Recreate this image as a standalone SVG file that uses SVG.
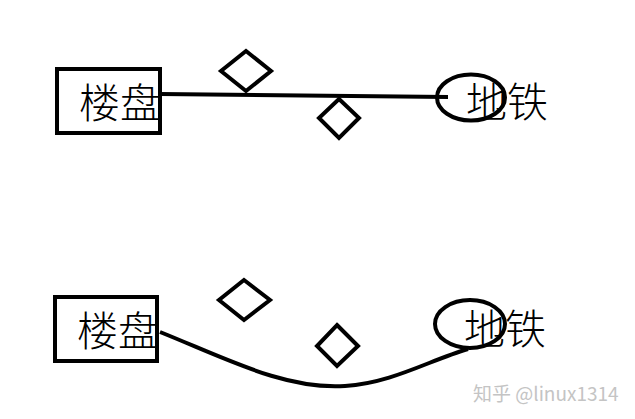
<svg xmlns="http://www.w3.org/2000/svg" width="635" height="419" viewBox="0 0 635 419">
<style>
.s{fill:none;stroke:#000;stroke-width:4}
.t{font-family:"Noto Sans CJK SC","Noto Sans",sans-serif;font-size:41px;font-weight:300;fill:#000}
.w{font-family:"Noto Sans CJK SC","Noto Sans",sans-serif;font-size:19px;fill:#c4c4c4}
</style>
<rect width="635" height="419" fill="#fff"/>
<g id="connectors">
<path class="s" d="M160,94 L448,97"/>
<path class="s" d="M160,332 C225,358 285,390 345,386 C392,383 430,360 468,349"/>
</g>
<g id="loupan1"><rect class="s" x="57" y="69" width="103" height="64"/><text class="t" x="79" y="118">楼盘</text></g>
<g id="ditie1"><ellipse class="s" cx="471" cy="97.5" rx="34" ry="23"/><text class="t" x="466" y="117">地铁</text></g>
<g id="d1"><path class="s" d="M246,51 L271,71 L246,91 L221,71 Z"/></g>
<g id="d2"><path class="s" d="M339,99 L359,118 L339,138 L319,118 Z"/></g>
<g id="loupan2"><rect class="s" x="55" y="297" width="102" height="64"/><text class="t" x="77" y="346">楼盘</text></g>
<g id="ditie2"><ellipse class="s" cx="470" cy="324" rx="35" ry="24"/><text class="t" x="464" y="344">地铁</text></g>
<g id="d3"><path class="s" d="M244,280 L270,300 L244,320 L219,300 Z"/></g>
<g id="d4"><path class="s" d="M337,325 L358,346 L337,366 L317,346 Z"/></g>
<text class="w" x="473" y="401">知乎 @linux1314</text>
</svg>
